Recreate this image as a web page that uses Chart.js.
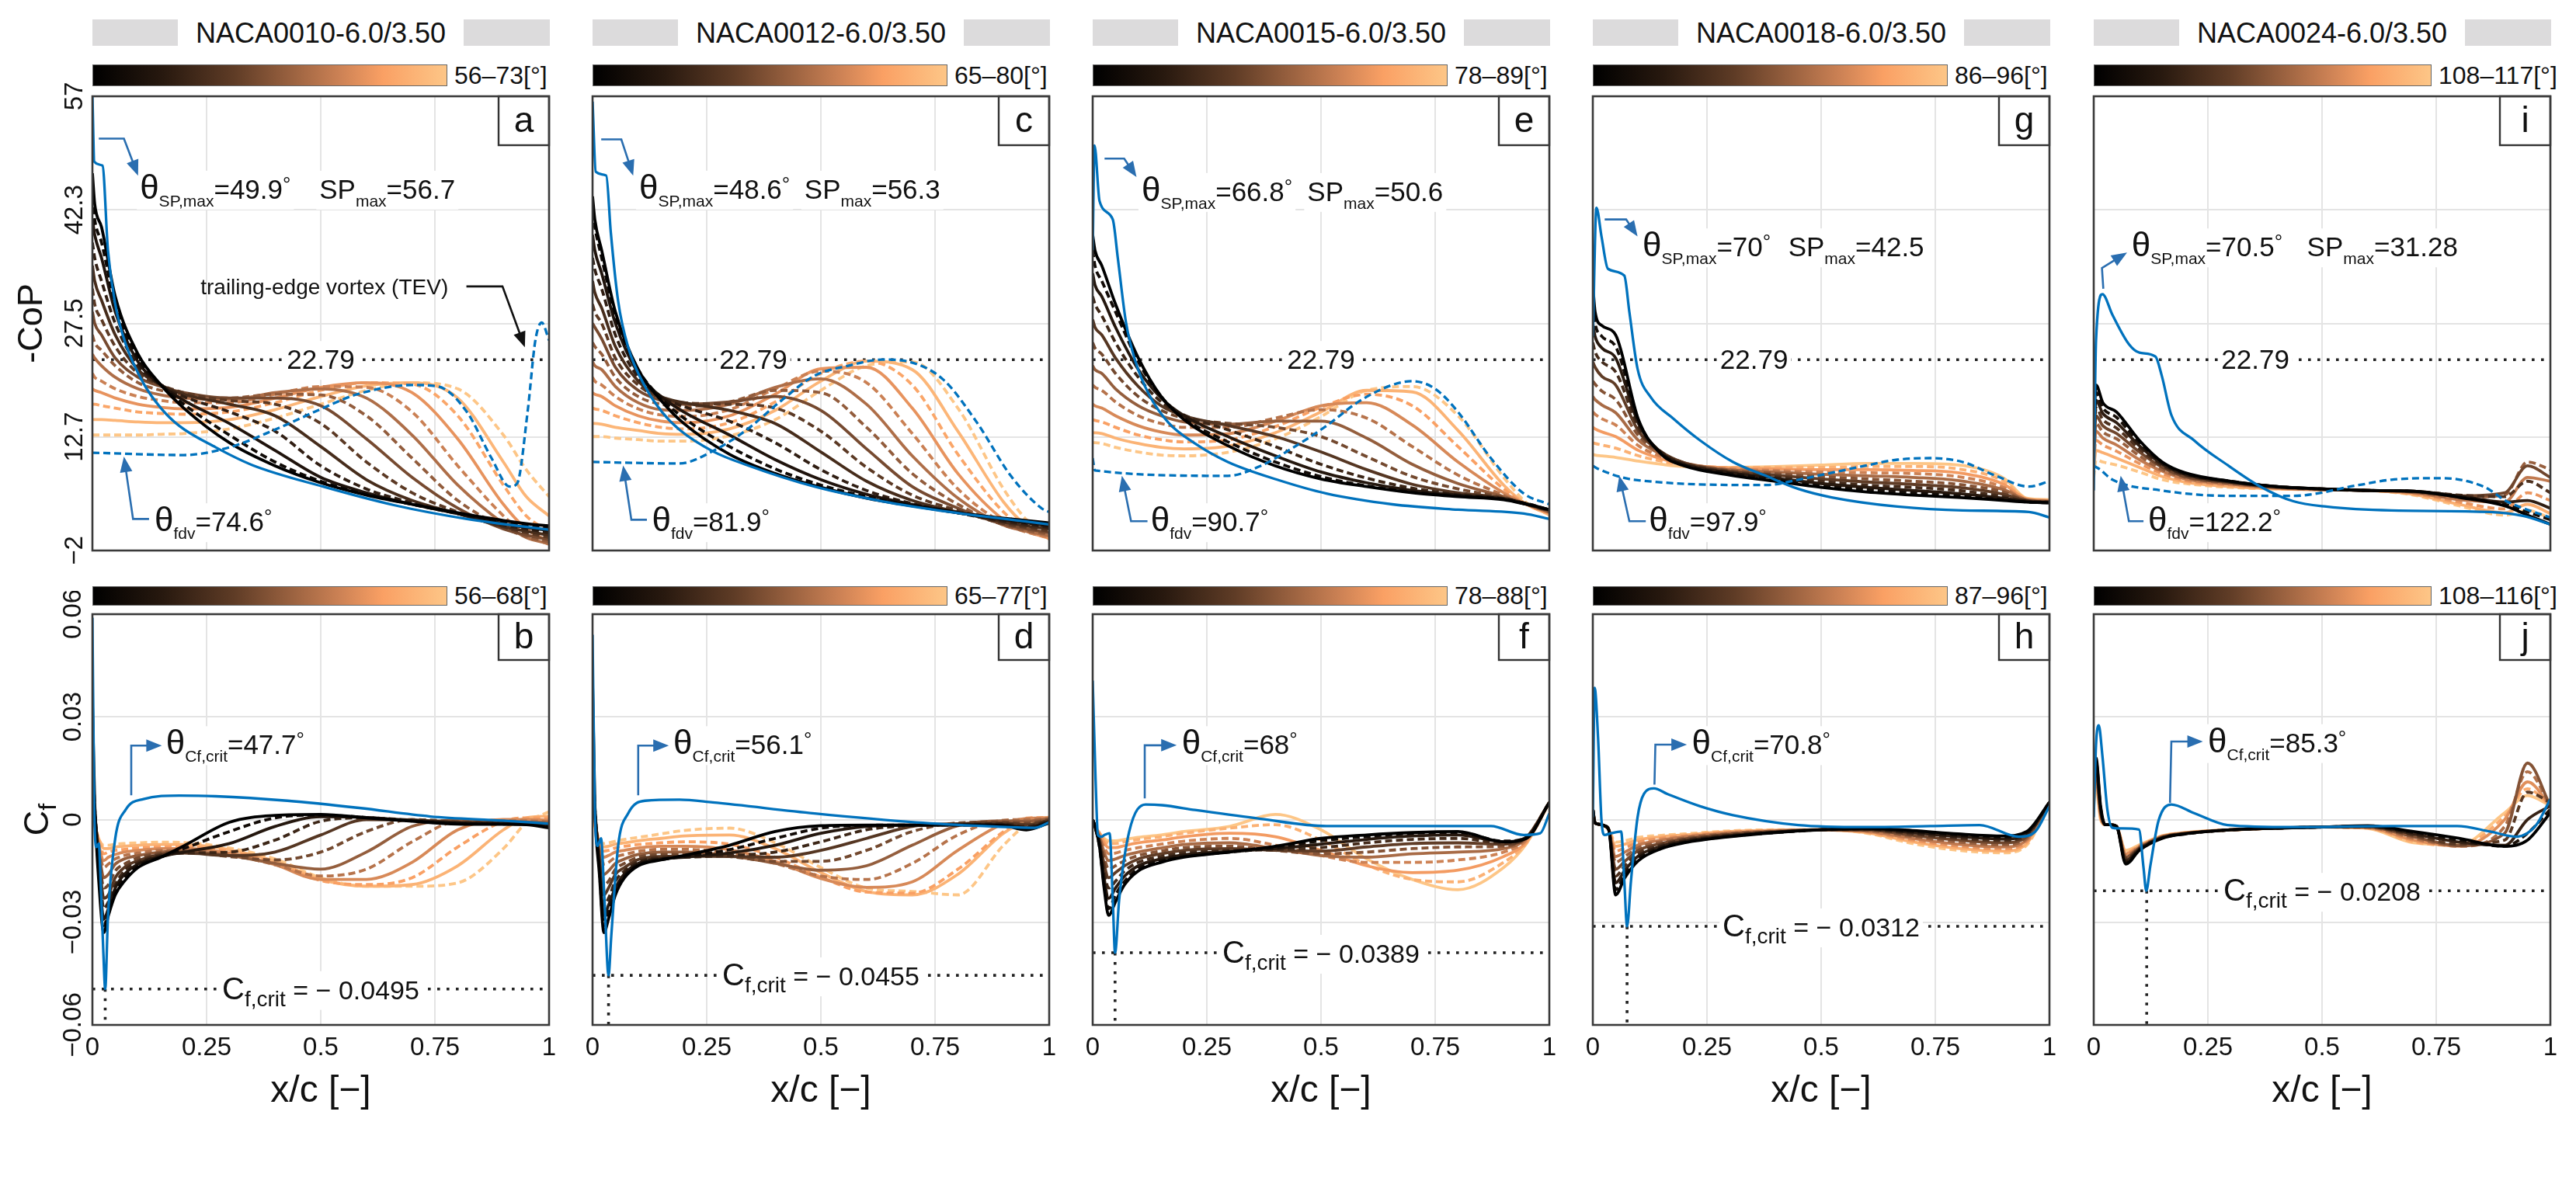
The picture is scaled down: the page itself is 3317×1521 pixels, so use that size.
<!DOCTYPE html>
<html>
<head>
<meta charset="utf-8">
<script src="https://cdn.jsdelivr.net/npm/chart.js@4.4.1/dist/chart.umd.min.js"></script>
<style>
  html, body { margin: 0; padding: 0; background: #fff; overflow: hidden; }
  #fig { position: relative; width: 3317px; height: 1521px; overflow: hidden;
         font-family: "Liberation Sans", Arial, Helvetica, sans-serif; color: #111; }
  .tbar { position: absolute; height: 34px; background: #dcdbdc; }
  .ttxt { position: absolute; top: 0; height: 34px; background: #fff; font-size: 36px;
          line-height: 36px; text-align: center; white-space: nowrap; }
  .cbar { position: absolute; box-sizing: border-box; border: 1px solid #666; }
  .cblab { position: absolute; font-size: 32px; line-height: 36px; white-space: nowrap; }
  canvas { position: absolute; }
</style>
</head>
<body>
<div id="fig"></div>
<script>
// ---------- data ----------
const TITLES = ["NACA0010-6.0/3.50", "NACA0012-6.0/3.50", "NACA0015-6.0/3.50", "NACA0018-6.0/3.50", "NACA0024-6.0/3.50"];
const RANGE_TOP = ["56–73", "65–80", "78–89", "86–96", "108–117"];
const RANGE_BOT = ["56–68", "65–77", "78–88", "87–96", "108–116"];
const LETTERS_TOP = ["a", "c", "e", "g", "i"];
const LETTERS_BOT = ["b", "d", "f", "h", "j"];

const THETA_SP = ["49.9", "48.6", "66.8", "70", "70.5"];
const SP_MAX = ["56.7", "56.3", "50.6", "42.5", "31.28"];
const THETA_FDV = ["74.6", "81.9", "90.7", "97.9", "122.2"];
const THETA_CF = ["47.7", "56.1", "68", "70.8", "85.3"];
const CF_CRIT = [-0.0495, -0.0455, -0.0389, -0.0312, -0.0208];
const CF_CRIT_X = [0.028, 0.035, 0.049, 0.075, 0.116];
const REF_LINE = 22.79;

const X_TICKS = [0, 0.25, 0.5, 0.75, 1];
const X_TICK_LABELS = ["0", "0.25", "0.5", "0.75", "1"];
const COP_TICKS = [-2, 12.75, 27.5, 42.25, 57];
const COP_TICK_LABELS = ["−2", "12.7", "27.5", "42.3", "57"];
const CF_TICKS = [-0.06, -0.03, 0, 0.03, 0.06];
const CF_TICK_LABELS = ["−0.06", "−0.03", "0", "0.03", "0.06"];

// chordwise stations used by the angle-sweep curves
const XT = [0, 0.005, 0.02, 0.05, 0.1, 0.15, 0.2, 0.3, 0.4, 0.5, 0.6, 0.7, 0.8, 0.9, 0.95, 1];
const XB = [0, 0.005, 0.015, 0.025, 0.035, 0.05, 0.07, 0.1, 0.15, 0.2, 0.3, 0.4, 0.5, 0.6, 0.7, 0.8, 0.9, 0.95, 1];

// -CoP, angle sweep (dark -> light)
const copA = [
  [47,43,40,31,23.5,19.5,16.5,12,9,6.8,5.2,4,2.9,1.9,1.5,1.2],
  [44,41,38,30,23,19.5,17,13,9.5,7,5.3,4,2.8,1.7,1.3,0.9],
  [41,39,36,29,22.5,19.5,17.5,14.5,11,7.5,5.5,4,2.8,1.5,1,0.6],
  [38,36,33,27.5,22,19.5,18,16,13.5,9,6,4.2,2.8,1.3,0.8,0.3],
  [35,33,30.5,26,21.5,19.5,18.3,17,15.5,11.5,7.2,4.5,2.8,1.1,0.5,0],
  [32,30,28,24.5,21,19.5,18.5,17.5,17,14.5,9.5,5.5,3,1,0.3,-0.3],
  [29,27.5,26,23,20.5,19.3,18.5,17.8,17.8,16.8,12.5,7.5,3.5,0.8,0,-0.6],
  [26,25,24,22,19.8,18.8,18.2,17.8,18.3,18.2,15.5,10,4.5,1,-0.2,-0.9],
  [23.5,23,22,20.5,19,18.2,17.8,17.6,18.5,19,17.8,13,6.5,1.5,-0.3,-1.1],
  [21,20.5,20,19,18,17.5,17.2,17.2,18.3,19.3,19.2,16,9,2.5,0,-1.2],
  [19,18.8,18.5,17.8,17,16.6,16.4,16.6,17.8,19.2,19.8,18.5,12.5,4,0.8,-0.8],
  [17,17,16.8,16.5,16,15.8,15.7,16,17.2,18.8,19.8,19.6,15.5,6.5,2.5,0.5],
  [15,15,15,14.9,14.7,14.6,14.6,15,16.3,18,19.4,19.8,17.8,9.5,5,2.5],
  [13,13,13,13,13,13.1,13.2,13.8,15.2,17,18.8,19.8,19,13,8.5,5]
];
const copC = [
  [44,41,37,29,21.5,17.5,14.5,10.5,8,6.2,4.8,3.8,2.9,2.2,1.9,1.6],
  [42,40,36,28.5,21.5,17.8,15.2,11.5,8.6,6.5,5,3.9,2.9,2.1,1.7,1.4],
  [39,37,34,27.5,21,18,16,13,9.8,7.2,5.3,4,2.9,2,1.6,1.2],
  [36,34.5,32,26,20.5,18,16.7,14.8,12,8.5,5.8,4.1,2.9,1.8,1.4,1],
  [33,31.5,29.5,24.5,20,18,17.2,16.2,14.5,10.8,7,4.5,3,1.7,1.2,0.8],
  [30,29,27.5,23,19.5,17.8,17.2,17,16.5,13.5,8.8,5.2,3.2,1.5,1,0.5],
  [27.5,27,25.5,21.8,18.8,17.5,17,17.3,18,16.2,11.2,6.3,3.5,1.4,0.8,0.3],
  [25,24.5,23.5,20.5,18,17,16.7,17.3,18.8,18.5,14,8,4,1.3,0.6,0.1],
  [22.5,22,21.5,19.3,17.2,16.3,16.2,17,19.2,20.3,17,10.3,4.8,1.3,0.5,-0.1],
  [20.5,20,19.5,18,16.4,15.6,15.4,16.3,19,21.3,19.8,13.2,6,1.5,0.4,-0.3],
  [18.5,18.3,18,16.8,15.5,14.8,14.6,15.5,18.3,21.6,21.8,16.5,8,2,0.5,-0.4],
  [16.5,16.4,16.2,15.5,14.6,14,13.8,14.6,17.3,21,22.6,19.5,10.5,3,0.8,-0.5],
  [14.5,14.5,14.4,14,13.6,13.2,13.1,13.8,16.2,20,22.6,21.5,13.5,4.3,1.2,-0.5],
  [12.8,12.8,12.8,12.6,12.4,12.2,12.2,12.9,15,18.8,22,22.5,16.5,6,2,-0.3]
];
const copE = [
  [39,37,35,30,23,18,15,11.5,9,7.3,6.3,5.5,5,4.6,4,3.3],
  [37,35,33,29,22.5,18,15.2,12,9.5,7.6,6.4,5.6,5.1,4.7,4.1,3.3],
  [34,32.5,31,27,21.5,17.8,15.5,12.7,10.3,8.2,6.8,5.8,5.2,4.7,4.1,3.3],
  [31,30,28.5,25,20.5,17.3,15.6,13.6,11.5,9.2,7.4,6.1,5.3,4.7,4,3.2],
  [28,27,26,23,19.3,16.8,15.5,14.2,12.8,10.8,8.5,6.6,5.5,4.8,4,3.2],
  [25,24.3,23.5,21,18,16.2,15.2,14.5,14,12.8,10.2,7.6,6,4.9,4,3.1],
  [22,21.5,21,19,16.8,15.5,14.7,14.4,14.8,14.8,12.6,9.2,6.7,5,4,3],
  [19.5,19.2,18.8,17.3,15.5,14.5,14,14,15.2,16.3,15.2,11.5,7.8,5.2,4,3],
  [17,16.8,16.5,15.5,14.2,13.4,13,13.2,14.8,16.8,17.2,14.3,9.5,5.5,4,2.9],
  [15,14.9,14.7,14,13,12.4,12.1,12.4,14.1,16.6,18.3,16.8,11.5,6,4,2.8],
  [13.3,13.3,13.2,12.6,11.9,11.4,11.2,11.6,13.3,16,18.8,18.6,13.6,6.5,4,2.7],
  [12,12,11.9,11.4,10.8,10.4,10.3,10.8,12.5,15.4,18.8,19.3,15.5,7.5,4.2,2.6]
];
const copG = [
  [32.5,29,27.2,26,15,10.5,9,7.8,7,6.2,5.6,5.2,4.9,4.5,4.3,4.2],
  [30,27.5,25.8,24.5,14.8,10.6,9.1,8,7.2,6.4,5.9,5.5,5.1,4.6,4.3,4.2],
  [27.5,25.8,24.3,23,14.5,10.7,9.2,8.1,7.4,6.7,6.2,5.8,5.4,4.8,4.4,4.2],
  [25,23.8,22.5,21.2,14,10.8,9.3,8.2,7.6,7,6.5,6.2,5.8,5,4.4,4.3],
  [22.5,21.8,20.6,19.5,13.5,10.8,9.4,8.3,7.8,7.3,6.9,6.6,6.2,5.3,4.5,4.3],
  [20,19.6,18.7,17.6,12.9,10.7,9.4,8.4,8,7.6,7.3,7,6.6,5.6,4.5,4.3],
  [18,17.6,16.9,15.9,12.3,10.5,9.4,8.5,8.2,7.9,7.7,7.5,7.1,5.9,4.6,4.4],
  [16,15.7,15.1,14.3,11.6,10.2,9.3,8.6,8.4,8.2,8.1,8,7.6,6.2,4.6,4.4],
  [14,13.8,13.4,12.8,11,9.9,9.2,8.7,8.6,8.5,8.5,8.4,8.1,6.6,4.7,4.5],
  [12,11.9,11.7,11.3,10.3,9.6,9.1,8.8,8.8,8.8,8.9,8.9,8.6,7,4.7,4.5],
  [10.5,10.4,10.3,10.1,9.6,9.2,8.9,8.8,8.9,9.1,9.3,9.3,9.1,7.4,4.8,4.6]
];
const copI = [
  [13,19.5,17.2,16,12.3,9.5,8.1,7,6.3,6,5.8,5.7,4.9,3.8,2.6,1.4],
  [12.5,18.5,16.5,15.3,12,9.4,8,7,6.3,6,5.8,5.7,5,4,3,2],
  [12,17.5,15.8,14.6,11.6,9.2,7.9,6.9,6.3,6,5.8,5.7,5.1,4.3,4.5,3.5],
  [11.5,16.5,15,13.9,11.2,9,7.8,6.9,6.3,6,5.8,5.7,5.2,5,7,5.5],
  [11,15.5,14.2,13.2,10.8,8.8,7.6,6.8,6.2,6,5.8,5.6,5.1,5.5,9,7.5],
  [10.5,14.5,13.4,12.5,10.3,8.5,7.5,6.7,6.2,5.9,5.8,5.6,4.9,5.2,9.5,8.5],
  [10,13.5,12.6,11.7,9.8,8.3,7.3,6.6,6.1,5.9,5.8,5.5,4.6,4.3,7.5,7],
  [9.5,12.3,11.7,10.9,9.3,8,7.1,6.5,6.1,5.9,5.8,5.4,4.3,3.4,5.5,4.5],
  [8.5,11,10.7,10,8.8,7.6,6.9,6.3,6,5.9,5.8,5.3,4,2.9,4,2.8],
  [7.5,9.8,9.5,9.1,8.2,7.2,6.7,6.2,6,5.9,5.8,5.2,3.8,2.6,3.2,2.2]
];

// Cf, angle sweep (dark -> light)
const cfB = [
  [0.034,0.005,-0.02,-0.033,-0.028,-0.022,-0.018,-0.014,-0.011,-0.0077,-0.0008,0.0012,0.0015,0.0005,-0.0005,-0.0013,-0.0014,-0.0015,-0.0024],
  [0.02,0.004,-0.018,-0.031,-0.027,-0.021,-0.017,-0.0135,-0.011,-0.0085,-0.0035,0.0005,0.0013,0.0006,-0.0004,-0.0012,-0.0013,-0.0014,-0.002],
  [0.01,0.003,-0.016,-0.029,-0.026,-0.02,-0.016,-0.013,-0.0108,-0.0095,-0.007,-0.002,0.0008,0.0006,-0.0003,-0.001,-0.0012,-0.0013,-0.0018],
  [0.005,0.002,-0.014,-0.026,-0.024,-0.019,-0.015,-0.0125,-0.0105,-0.0098,-0.0095,-0.006,-0.0005,0.0005,-0.0002,-0.0009,-0.001,-0.0011,-0.0016],
  [0.003,0.001,-0.012,-0.023,-0.022,-0.017,-0.014,-0.012,-0.0102,-0.0098,-0.0105,-0.0095,-0.0045,0,-0.0001,-0.0008,-0.0009,-0.001,-0.0014],
  [0.002,0,-0.011,-0.02,-0.019,-0.015,-0.013,-0.0112,-0.0098,-0.0095,-0.0108,-0.0118,-0.0095,-0.0035,0,-0.0006,-0.0008,-0.0009,-0.0012],
  [0.002,0,-0.01,-0.017,-0.016,-0.013,-0.0115,-0.0105,-0.0095,-0.0093,-0.0105,-0.0128,-0.0145,-0.0095,-0.002,-0.0002,-0.0006,-0.0007,-0.001],
  [0.001,-0.001,-0.009,-0.014,-0.013,-0.0115,-0.0105,-0.0098,-0.009,-0.009,-0.0102,-0.0132,-0.0165,-0.0145,-0.0065,-0.0005,-0.0003,-0.0004,-0.0006],
  [0.001,-0.001,-0.008,-0.012,-0.011,-0.0102,-0.0095,-0.009,-0.0085,-0.0085,-0.0098,-0.0132,-0.0175,-0.0175,-0.0125,-0.003,0,0,-0.0002],
  [0,-0.002,-0.007,-0.01,-0.0095,-0.009,-0.0087,-0.0083,-0.008,-0.008,-0.0093,-0.0128,-0.0178,-0.019,-0.017,-0.008,-0.0005,0.0005,0.0005],
  [0,-0.002,-0.006,-0.0085,-0.0085,-0.008,-0.0078,-0.0075,-0.0073,-0.0073,-0.0088,-0.0122,-0.0175,-0.0195,-0.019,-0.0135,-0.003,0.0005,0.001],
  [0,-0.002,-0.006,-0.0075,-0.0075,-0.0072,-0.007,-0.0068,-0.0066,-0.0067,-0.0083,-0.0115,-0.017,-0.0195,-0.0195,-0.0185,-0.0085,-0.001,0.0023]
];
const cfD = [
  [0.04,0.005,-0.016,-0.033,-0.029,-0.022,-0.017,-0.0135,-0.0118,-0.0105,-0.0075,-0.0035,-0.0018,-0.0016,-0.0016,-0.0016,-0.0018,-0.003,-0.001],
  [0.02,0.004,-0.015,-0.031,-0.027,-0.021,-0.0165,-0.0132,-0.0117,-0.0108,-0.0088,-0.0055,-0.0025,-0.0017,-0.0016,-0.0016,-0.0017,-0.0028,-0.0008],
  [0.01,0.003,-0.014,-0.028,-0.025,-0.02,-0.0158,-0.0128,-0.0115,-0.011,-0.0098,-0.0075,-0.004,-0.002,-0.0016,-0.0015,-0.0015,-0.0024,-0.0006],
  [0.005,0.002,-0.013,-0.025,-0.023,-0.018,-0.015,-0.0123,-0.0112,-0.011,-0.0105,-0.0095,-0.0065,-0.003,-0.0017,-0.0014,-0.0013,-0.002,-0.0004],
  [0.003,0.001,-0.012,-0.022,-0.02,-0.016,-0.014,-0.0117,-0.0108,-0.0107,-0.0108,-0.011,-0.009,-0.0055,-0.002,-0.0012,-0.001,-0.0015,-0.0002],
  [0.002,0,-0.011,-0.019,-0.018,-0.0145,-0.0128,-0.011,-0.0102,-0.0102,-0.0108,-0.0122,-0.0122,-0.009,-0.0035,-0.001,-0.0007,-0.001,0],
  [0.002,0,-0.01,-0.016,-0.015,-0.0128,-0.0115,-0.0102,-0.0095,-0.0095,-0.0105,-0.0128,-0.0148,-0.0135,-0.0075,-0.0018,-0.0004,-0.0005,0.0002],
  [0.001,-0.001,-0.009,-0.013,-0.0125,-0.011,-0.0102,-0.0093,-0.0087,-0.0087,-0.0098,-0.0128,-0.0165,-0.0175,-0.0128,-0.0045,-0.0002,0,0.0003],
  [0.001,-0.001,-0.008,-0.011,-0.0105,-0.0095,-0.009,-0.0083,-0.0078,-0.0078,-0.0088,-0.0122,-0.0172,-0.0198,-0.0182,-0.009,-0.0012,0.0003,0.0005],
  [0,-0.002,-0.007,-0.0092,-0.009,-0.0083,-0.0078,-0.0073,-0.0068,-0.0065,-0.0072,-0.011,-0.0168,-0.0212,-0.0215,-0.0145,-0.0035,0.0004,0.0006],
  [0,-0.002,-0.0065,-0.008,-0.0078,-0.0072,-0.0068,-0.0062,-0.0055,-0.0048,-0.0045,-0.0085,-0.0155,-0.021,-0.022,-0.016,-0.004,-0.0005,0.0007],
  [0,-0.002,-0.006,-0.007,-0.0068,-0.0063,-0.0058,-0.0052,-0.0042,-0.0032,-0.0025,-0.0068,-0.014,-0.02,-0.021,-0.022,-0.0075,-0.0015,0.0008]
];
const cfF = [
  [0,-0.002,-0.008,-0.02,-0.028,-0.024,-0.019,-0.015,-0.0125,-0.011,-0.0095,-0.0078,-0.0055,-0.0045,-0.0038,-0.0035,-0.0065,-0.0055,0.005],
  [0,-0.002,-0.008,-0.019,-0.026,-0.022,-0.018,-0.0143,-0.012,-0.0108,-0.0095,-0.0082,-0.0062,-0.005,-0.004,-0.0038,-0.0063,-0.0053,0.005],
  [0,-0.002,-0.007,-0.017,-0.023,-0.02,-0.0165,-0.0135,-0.0115,-0.0103,-0.0093,-0.0085,-0.0072,-0.0058,-0.0048,-0.0045,-0.0065,-0.0052,0.005],
  [0,-0.002,-0.007,-0.015,-0.02,-0.018,-0.015,-0.0125,-0.0108,-0.0097,-0.009,-0.0088,-0.0082,-0.0068,-0.0058,-0.0055,-0.0068,-0.0052,0.005],
  [0,-0.002,-0.006,-0.013,-0.017,-0.0155,-0.0135,-0.0115,-0.01,-0.009,-0.0085,-0.009,-0.0092,-0.008,-0.007,-0.0068,-0.0072,-0.0052,0.005],
  [0,-0.002,-0.006,-0.011,-0.0145,-0.0135,-0.012,-0.0105,-0.0092,-0.0082,-0.0078,-0.009,-0.01,-0.0095,-0.0085,-0.008,-0.0078,-0.0052,0.005],
  [0,-0.002,-0.005,-0.0095,-0.012,-0.0115,-0.0105,-0.0095,-0.0083,-0.0073,-0.0068,-0.0085,-0.0105,-0.011,-0.01,-0.0095,-0.0085,-0.0055,0.005],
  [0,-0.002,-0.005,-0.008,-0.01,-0.0098,-0.009,-0.0082,-0.0072,-0.0063,-0.0055,-0.0075,-0.0105,-0.0125,-0.0125,-0.0118,-0.0095,-0.006,0.005],
  [0,-0.002,-0.004,-0.0068,-0.0082,-0.0082,-0.0076,-0.0068,-0.006,-0.005,-0.004,-0.005,-0.009,-0.0135,-0.0155,-0.0148,-0.0108,-0.0065,0.005],
  [0,-0.002,-0.004,-0.006,-0.007,-0.007,-0.0065,-0.0058,-0.005,-0.004,-0.0025,-0.0015,-0.006,-0.0132,-0.0175,-0.0182,-0.0125,-0.0068,0.005],
  [0,-0.002,-0.004,-0.0055,-0.0062,-0.0062,-0.0058,-0.0052,-0.0045,-0.0035,-0.002,0.0015,-0.003,-0.0115,-0.0175,-0.0205,-0.014,-0.007,0.005]
];
const cfH = [
  [0.003,-0.001,-0.0014,-0.0018,-0.003,-0.022,-0.017,-0.012,-0.0085,-0.0068,-0.005,-0.0038,-0.003,-0.0026,-0.0032,-0.0042,-0.0048,-0.0035,0.005],
  [0.003,-0.001,-0.0014,-0.0018,-0.003,-0.0205,-0.016,-0.0113,-0.0082,-0.0066,-0.0049,-0.0038,-0.003,-0.0027,-0.0035,-0.0046,-0.0052,-0.0038,0.005],
  [0.003,-0.001,-0.0014,-0.0018,-0.003,-0.0185,-0.0148,-0.0106,-0.0078,-0.0063,-0.0047,-0.0037,-0.003,-0.0028,-0.0038,-0.005,-0.0057,-0.0042,0.005],
  [0.003,-0.001,-0.0014,-0.0018,-0.003,-0.0165,-0.0135,-0.0098,-0.0074,-0.006,-0.0045,-0.0036,-0.003,-0.0029,-0.0042,-0.0055,-0.0062,-0.0046,0.005],
  [0.003,-0.001,-0.0014,-0.0018,-0.003,-0.0145,-0.0122,-0.009,-0.007,-0.0057,-0.0043,-0.0035,-0.003,-0.003,-0.0046,-0.006,-0.0068,-0.005,0.005],
  [0.003,-0.001,-0.0014,-0.0018,-0.003,-0.0125,-0.0108,-0.0082,-0.0065,-0.0054,-0.0041,-0.0034,-0.003,-0.0032,-0.005,-0.0066,-0.0074,-0.0055,0.005],
  [0.003,-0.001,-0.0014,-0.0018,-0.003,-0.0108,-0.0095,-0.0074,-0.006,-0.0051,-0.0039,-0.0033,-0.003,-0.0034,-0.0055,-0.0072,-0.008,-0.006,0.005],
  [0.003,-0.001,-0.0014,-0.0018,-0.003,-0.0092,-0.0083,-0.0066,-0.0055,-0.0048,-0.0037,-0.0032,-0.003,-0.0036,-0.006,-0.0078,-0.0086,-0.0065,0.005],
  [0.003,-0.001,-0.0014,-0.0018,-0.003,-0.0078,-0.0072,-0.0059,-0.005,-0.0045,-0.0035,-0.0031,-0.003,-0.0038,-0.0065,-0.0084,-0.0092,-0.007,0.005],
  [0.003,-0.001,-0.0014,-0.0018,-0.003,-0.0066,-0.0062,-0.0052,-0.0046,-0.0042,-0.0033,-0.003,-0.003,-0.004,-0.007,-0.009,-0.0097,-0.0075,0.005]
];
const cfJ = [
  [0.012,0.018,0.004,-0.0015,-0.0015,-0.002,-0.013,-0.009,-0.0055,-0.0042,-0.003,-0.0025,-0.0022,-0.0018,-0.0035,-0.0055,-0.0078,-0.006,0.002],
  [0.011,0.017,0.0035,-0.0015,-0.0015,-0.002,-0.0125,-0.0088,-0.0054,-0.0042,-0.003,-0.0025,-0.0022,-0.0019,-0.0038,-0.006,-0.0078,-0.004,0.003],
  [0.01,0.016,0.003,-0.0015,-0.0015,-0.002,-0.012,-0.0086,-0.0053,-0.0041,-0.003,-0.0025,-0.0022,-0.002,-0.0042,-0.0066,-0.0075,0,0.004],
  [0.009,0.015,0.0025,-0.0015,-0.0015,-0.002,-0.0115,-0.0084,-0.0052,-0.0041,-0.003,-0.0025,-0.0022,-0.0021,-0.0046,-0.0072,-0.006,0.008,0.005],
  [0.008,0.014,0.002,-0.0015,-0.0015,-0.002,-0.011,-0.0082,-0.0051,-0.004,-0.003,-0.0025,-0.0022,-0.0022,-0.005,-0.0076,-0.004,0.0165,0.004],
  [0.007,0.013,0.0015,-0.0015,-0.0015,-0.002,-0.0105,-0.008,-0.005,-0.004,-0.003,-0.0025,-0.0022,-0.0023,-0.0055,-0.0078,-0.002,0.014,0.004],
  [0.006,0.012,0.001,-0.0015,-0.0015,-0.002,-0.01,-0.0078,-0.0049,-0.0039,-0.003,-0.0025,-0.0022,-0.0024,-0.006,-0.0078,0,0.011,0.004],
  [0.005,0.011,0.0005,-0.0015,-0.0015,-0.002,-0.0095,-0.0076,-0.0048,-0.0039,-0.003,-0.0025,-0.0022,-0.0025,-0.0065,-0.0076,0.001,0.009,0.004],
  [0.004,0.01,0,-0.0015,-0.0015,-0.002,-0.009,-0.0074,-0.0047,-0.0038,-0.003,-0.0025,-0.0022,-0.0026,-0.0068,-0.0074,0.002,0.007,0.004]
];

// blue reference curves: theta_SP,max (solid) and theta_fdv (dashed) for -CoP
const spA_x = [0,0.004,0.022,0.034,0.05,0.073,0.112,0.15,0.19,0.27,0.35,0.505,0.66,0.82,1];
const spA_y = [57,48.5,48,37,30,24.8,19.7,16.5,14.2,11.4,9.1,6.3,3.9,2.1,0.7];
const fdvA_x = [0,0.2,0.3,0.4,0.505,0.58,0.7,0.757,0.82,0.874,0.914,0.93,0.953,0.97,0.984,1];
const fdvA_y = [10.7,10.4,11.4,13.7,16.5,18.3,19.5,19.3,16,10,6.3,6.7,16,25.3,27.6,25.3];
const spC_x = [0,0.007,0.03,0.04,0.056,0.078,0.115,0.152,0.19,0.263,0.338,0.486,0.634,0.783,1];
const spC_y = [56.3,47.2,46.7,39.3,30.4,24.4,19.3,16,13.7,10.9,9.1,6.3,4.4,3,1.4];
const fdvC_x = [0,0.19,0.263,0.338,0.412,0.486,0.56,0.634,0.694,0.768,0.842,0.916,0.983,1];
const fdvC_y = [9.5,9.3,10.9,13.7,17.4,20.7,22,22.8,22.5,20.2,14.6,7.7,3.5,3];
const spE_x = [0,0.004,0.015,0.044,0.055,0.073,0.094,0.123,0.166,0.224,0.296,0.404,0.512,0.656,0.8,0.944,1];
const spE_y = [37,50.6,43.4,41,36,27.6,22.5,18.3,14.6,11.9,9.5,7.2,5.4,4,3.3,2.8,2.1];
const fdvE_x = [0,0.005,0.296,0.368,0.44,0.512,0.584,0.656,0.7,0.75,0.8,0.872,0.944,1];
const fdvE_y = [10,8.4,7.7,9,11.4,14.2,17.4,19.5,20,19,16,10,5.4,4];
const spG_x = [0,0.008,0.019,0.033,0.069,0.08,0.098,0.127,0.177,0.235,0.307,0.379,0.45,0.523,0.667,0.81,0.955,1];
const spG_y = [25.8,42.5,38.8,34.6,33.7,29,21.6,17.9,15.1,12.3,9.5,7.7,6,4.9,3.7,3.2,3,2.3];
const fdvG_x = [0,0.012,0.09,0.38,0.45,0.523,0.595,0.667,0.739,0.81,0.883,0.955,1];
const fdvG_y = [9,8.6,7.2,6.5,7.2,8.1,9,9.8,10,9.5,7.7,6.3,7];
const spI_x = [0,0.005,0.019,0.041,0.077,0.1,0.135,0.149,0.17,0.22,0.293,0.365,0.437,0.509,0.652,0.868,0.94,1];
const spI_y = [5.8,25.3,31.3,28.6,24.8,23.7,23.2,20.7,15.6,12.3,9.1,6.3,4.4,3.7,3.2,3,2.5,1.4];
const fdvI_x = [0,0.012,0.041,0.149,0.293,0.437,0.58,0.652,0.76,0.854,0.904,0.94,1];
const fdvI_y = [9,8.6,7.2,5.8,5.1,5.1,6.5,7.2,7.4,6.3,4.4,3.5,2.3];

// blue reference curves: theta_Cf,crit for Cf
const critB_x = [0,0.004,0.009,0.014,0.018,0.024,0.028,0.034,0.05,0.073,0.112,0.19,0.27,0.427,0.584,0.74,0.898,1];
const critB_y = [0.059,0.003,-0.008,-0.007,-0.018,-0.039,-0.0495,-0.0286,-0.0055,0.0029,0.006,0.007,0.0068,0.0055,0.0034,0.0009,-0.0003,-0.0012];
const critD_x = [0,0.005,0.011,0.0185,0.026,0.035,0.041,0.056,0.078,0.115,0.19,0.263,0.486,0.708,0.857,0.968,1];
const critD_y = [0.054,0.003,-0.0077,-0.0055,-0.023,-0.0455,-0.034,-0.0077,0.0018,0.0055,0.0058,0.005,0.0018,-0.0008,-0.0019,-0.0024,-0.0008];
const critF_x = [0,0.006,0.0115,0.019,0.026,0.037,0.044,0.049,0.058,0.08,0.116,0.152,0.224,0.368,0.512,0.656,0.8,0.872,0.944,0.98,1];
const critF_y = [0.0406,0.013,-0.0045,-0.005,-0.0045,-0.004,-0.0234,-0.0389,-0.0234,-0.0035,0.0044,0.0042,0.0028,0.0002,-0.0019,-0.0019,-0.0019,-0.0019,-0.0045,-0.004,0.0018];
const critH_x = [0,0.004,0.0115,0.019,0.026,0.04,0.062,0.069,0.075,0.0835,0.098,0.112,0.134,0.163,0.235,0.307,0.45,0.595,0.739,0.847,0.933,0.969,1];
const critH_y = [0.0007,0.0385,0.0238,-0.0003,-0.0045,-0.004,-0.0035,-0.018,-0.0312,-0.018,0.0007,0.0075,0.0091,0.0075,0.0039,0.0013,-0.0016,-0.0022,-0.0019,-0.0016,-0.005,-0.0035,0.0039];
const critJ_x = [0,0.005,0.011,0.019,0.03,0.041,0.063,0.099,0.109,0.115,0.124,0.142,0.17,0.221,0.293,0.437,0.652,0.796,0.868,0.926,0.969,1];
const critJ_y = [0.0007,0.0218,0.0275,0.0186,0.0028,-0.0024,-0.0026,-0.0029,-0.014,-0.0208,-0.0135,-0.0003,0.0044,0.0018,-0.0016,-0.0022,-0.0019,-0.0019,-0.0035,-0.005,-0.0016,0.006];

const COP_SETS = [copA, copC, copE, copG, copI];
const CF_SETS = [cfB, cfD, cfF, cfH, cfJ];
const SP_CURVES = [[spA_x, spA_y], [spC_x, spC_y], [spE_x, spE_y], [spG_x, spG_y], [spI_x, spI_y]];
const FDV_CURVES = [[fdvA_x, fdvA_y], [fdvC_x, fdvC_y], [fdvE_x, fdvE_y], [fdvG_x, fdvG_y], [fdvI_x, fdvI_y]];
const CRIT_CURVES = [[critB_x, critB_y], [critD_x, critD_y], [critF_x, critF_y], [critH_x, critH_y], [critJ_x, critJ_y]];

// ---------- layout / style ----------
const FONT = '"Liberation Sans", Arial, Helvetica, sans-serif';
const BLUE = "#0072bd";
const ARROW_BLUE = "#2a6eb0";
const PANEL_LEFT = [119, 763, 1407, 2051, 2696];
const PLOT_W = 588;
const CBAR_W = [457, 457, 457, 457, 435];
const CMAP = [[0, 0, 0, 0], [0.2, 40, 25, 15], [0.4, 95, 60, 38], [0.55, 150, 95, 62],
              [0.7, 205, 130, 85], [0.82, 250, 160, 100], [1, 253, 198, 135]];

// annotation anchors, in data units
const SP_POS = [[0.104, 43.7, 0.497], [0.102, 43.7, 0.464], [0.107, 43.4, 0.47], [0.109, 36.2, 0.428], [0.083, 36.2, 0.467]];
const SP_ARROW = [[[0.014, 51.5], [0.069, 51.5], [0.1, 46.7]], [[0.019, 51.4], [0.063, 51.4], [0.089, 46.7]],
                  [[0.026, 48.9], [0.069, 48.9], [0.096, 46.5]], [[0.026, 41], [0.073, 41], [0.098, 38.8]],
                  [[0.021, 32], [0.018, 34.7], [0.073, 36.7]]];
const FDV_POS = [[0.136, 0.5], [0.13, 0.5], [0.127, 0.5], [0.123, 0.5], [0.119, 0.5]];
const FDV_ARROW = [[[0.124, 2.1], [0.089, 2.1], [0.069, 10.2]], [[0.119, 2], [0.085, 2], [0.067, 9.05]],
                   [[0.12, 1.8], [0.084, 1.8], [0.064, 7.7]], [[0.116, 1.8], [0.08, 1.8], [0.058, 7.7]],
                   [[0.109, 1.8], [0.077, 1.8], [0.059, 7.7]]];
const REF_LABEL_X = [0.5, 0.352, 0.5, 0.353, 0.354];
const CF_ARROW = [[[0.085, 0.0071], [0.085, 0.0216], [0.152, 0.0216]], [[0.1, 0.0071], [0.1, 0.0216], [0.167, 0.0216]],
                  [[0.114, 0.0062], [0.114, 0.0217], [0.184, 0.0217]], [[0.135, 0.0102], [0.137, 0.0219], [0.206, 0.0219]],
                  [[0.167, 0.0049], [0.17, 0.0228], [0.239, 0.0228]]];
const CF_TEXT_POS = [[0.161, 0.0191], [0.177, 0.0191], [0.195, 0.0191], [0.217, 0.0191], [0.25, 0.0197]];

Chart.defaults.font.family = FONT;
Chart.defaults.color = "#111";

function cmap(t) {
  for (let i = 1; i < CMAP.length; i++) {
    if (t <= CMAP[i][0]) {
      const a = CMAP[i - 1], b = CMAP[i];
      const f = (t - a[0]) / (b[0] - a[0]);
      return "rgb(" + [1, 2, 3].map(j => Math.round(a[j] + f * (b[j] - a[j]))).join(",") + ")";
    }
  }
  return "rgb(253,198,135)";
}
const GRADIENT = "linear-gradient(to right," +
  CMAP.map(s => `rgb(${s[1]},${s[2]},${s[3]}) ${s[0] * 100}%`).join(",") + ")";

// ---------- drawing helpers ----------
function dotted(ctx, x1, y1, x2, y2) {
  ctx.save();
  ctx.strokeStyle = "#222"; ctx.lineWidth = 3.6; ctx.lineCap = "butt";
  ctx.setLineDash([3.6, 8.4]);
  ctx.beginPath(); ctx.moveTo(x1, y1); ctx.lineTo(x2, y2); ctx.stroke();
  ctx.restore();
}

function arrow(ctx, pts, color) {
  ctx.save();
  ctx.strokeStyle = color; ctx.fillStyle = color; ctx.lineWidth = 2.6; ctx.setLineDash([]);
  const n = pts.length;
  const [ex, ey] = pts[n - 1], [qx, qy] = pts[n - 2];
  const ang = Math.atan2(ey - qy, ex - qx), L = 20, W = 8;
  ctx.beginPath(); ctx.moveTo(pts[0][0], pts[0][1]);
  for (let i = 1; i < n - 1; i++) ctx.lineTo(pts[i][0], pts[i][1]);
  ctx.lineTo(ex - L * 0.8 * Math.cos(ang), ey - L * 0.8 * Math.sin(ang));
  ctx.stroke();
  ctx.beginPath(); ctx.moveTo(ex, ey);
  ctx.lineTo(ex - L * Math.cos(ang) + W * Math.sin(ang), ey - L * Math.sin(ang) - W * Math.cos(ang));
  ctx.lineTo(ex - L * Math.cos(ang) - W * Math.sin(ang), ey - L * Math.sin(ang) + W * Math.cos(ang));
  ctx.closePath(); ctx.fill();
  ctx.restore();
}

// parts: [text, fontSize, baselineShift]
function rich(ctx, x, y, parts, align, bg) {
  ctx.save();
  let w = 0;
  const ws = parts.map(p => { ctx.font = p[1] + "px " + FONT; const m = ctx.measureText(p[0]).width; w += m; return m; });
  let sx = align === "center" ? x - w / 2 : x;
  if (bg) { ctx.fillStyle = "#fff"; ctx.fillRect(sx - 4, y - 36, w + 8, 50); }
  ctx.fillStyle = "#111"; ctx.textAlign = "left"; ctx.textBaseline = "alphabetic";
  parts.forEach((p, i) => { ctx.font = p[1] + "px " + FONT; ctx.fillText(p[0], sx, y + p[2]); sx += ws[i]; });
  ctx.restore();
}

function frame(ctx, ca) {
  ctx.save(); ctx.strokeStyle = "#3a3a3a"; ctx.lineWidth = 2.6; ctx.setLineDash([]);
  ctx.strokeRect(ca.left, ca.top, ca.right - ca.left, ca.bottom - ca.top);
  ctx.restore();
}

function letterBox(ctx, ca, letter, h) {
  ctx.save();
  ctx.fillStyle = "#fff"; ctx.fillRect(ca.right - 65, ca.top, 65, h);
  ctx.strokeStyle = "#333"; ctx.lineWidth = 2.4; ctx.strokeRect(ca.right - 65, ca.top, 65, h);
  ctx.fillStyle = "#111"; ctx.font = "46px " + FONT; ctx.textAlign = "center"; ctx.textBaseline = "middle";
  ctx.fillText(letter, ca.right - 32.5, ca.top + h / 2 + 2);
  ctx.restore();
}

function decoTop(p) {
  return {
    id: "decoTop" + p,
    beforeDatasetsDraw(chart) {
      const { ctx, chartArea: ca, scales } = chart;
      const y = scales.y.getPixelForValue(REF_LINE);
      dotted(ctx, ca.left, y, ca.right, y);
    },
    afterDatasetsDraw(chart) {
      const { ctx, chartArea: ca, scales } = chart;
      const X = v => scales.x.getPixelForValue(v), Y = v => scales.y.getPixelForValue(v);
      const pts = a => a.map(q => [X(q[0]), Y(q[1])]);
      rich(ctx, X(REF_LABEL_X[p]), Y(REF_LINE) + 12, [[REF_LINE.toFixed(2), 35, 0]], "center", true);
      const sp = SP_POS[p];
      rich(ctx, X(sp[0]), Y(sp[1]), [["θ", 44, 0], ["SP,max", 21, 10], ["=" + THETA_SP[p], 35, 0], ["°", 26, -10]], "left", true);
      rich(ctx, X(sp[2]), Y(sp[1]), [["SP", 35, 0], ["max", 21, 10], ["=" + SP_MAX[p], 35, 0]], "left", true);
      rich(ctx, X(FDV_POS[p][0]), Y(FDV_POS[p][1]), [["θ", 44, 0], ["fdv", 21, 10], ["=" + THETA_FDV[p], 35, 0], ["°", 26, -10]], "left", true);
      arrow(ctx, pts(SP_ARROW[p]), ARROW_BLUE);
      arrow(ctx, pts(FDV_ARROW[p]), ARROW_BLUE);
      if (p === 0) {
        rich(ctx, X(0.508), Y(32.3) + 10, [["trailing-edge vortex (TEV)", 28, 0]], "center", false);
        arrow(ctx, pts([[0.819, 32.3], [0.898, 32.3], [0.947, 24.4]]), "#111");
      }
      letterBox(ctx, ca, LETTERS_TOP[p], 63);
      frame(ctx, ca);
    }
  };
}

function decoBot(p) {
  return {
    id: "decoBot" + p,
    beforeDatasetsDraw(chart) {
      const { ctx, chartArea: ca, scales } = chart;
      const y = scales.y.getPixelForValue(CF_CRIT[p]);
      const x = scales.x.getPixelForValue(CF_CRIT_X[p]);
      dotted(ctx, ca.left, y, ca.right, y);
      dotted(ctx, x, y, x, ca.bottom);
    },
    afterDatasetsDraw(chart) {
      const { ctx, chartArea: ca, scales } = chart;
      const X = v => scales.x.getPixelForValue(v), Y = v => scales.y.getPixelForValue(v);
      const pts = a => a.map(q => [X(q[0]), Y(q[1])]);
      rich(ctx, X(0.5), Y(CF_CRIT[p]) + 13,
        [["C", 40, 0], ["f,crit", 28, 9], [" = − " + String(-CF_CRIT[p]), 34, 0]], "center", true);
      rich(ctx, X(CF_TEXT_POS[p][0]), Y(CF_TEXT_POS[p][1]),
        [["θ", 44, 0], ["Cf,crit", 21, 10], ["=" + THETA_CF[p], 35, 0], ["°", 26, -10]], "left", true);
      arrow(ctx, pts(CF_ARROW[p]), ARROW_BLUE);
      letterBox(ctx, ca, LETTERS_BOT[p], 59);
      frame(ctx, ca);
      if (p === 0) {
        ctx.save();
        ctx.translate(ca.left - 73, (ca.top + ca.bottom) / 2);
        ctx.rotate(-Math.PI / 2);
        rich(ctx, 0, 16, [["C", 45, 0], ["f", 32, 10]], "center", false);
        ctx.restore();
      }
    }
  };
}

function brownSets(xs, curves) {
  const n = curves.length;
  return curves.map((ys, k) => ({
    data: xs.map((x, i) => ({ x, y: ys[i] })),
    borderColor: cmap(k / (n - 1)),
    borderWidth: 3.8,
    borderDash: k % 2 ? [9, 5] : [],
    pointRadius: 0,
    cubicInterpolationMode: "monotone",
    fill: false
  }));
}

function blueSet(xy, dashed) {
  return {
    data: xy[0].map((x, i) => ({ x, y: xy[1][i] })),
    borderColor: BLUE,
    borderWidth: 3.3,
    borderDash: dashed ? [9, 5] : [],
    pointRadius: 0,
    cubicInterpolationMode: "monotone",
    fill: false
  };
}

function axes(p, row) {
  const top = row === "top";
  const grid = { color: "#e4e4e4", lineWidth: 2, drawTicks: false };
  return {
    x: {
      type: "linear", min: 0, max: 1,
      afterBuildTicks: s => { s.ticks = X_TICKS.map(v => ({ value: v })); },
      afterFit: s => { s.height = top ? 30 : 201; },
      grid, border: { display: false },
      ticks: { display: !top, font: { size: 33 }, color: "#111", padding: 10, maxRotation: 0,
               autoSkip: false, callback: (v, i) => X_TICK_LABELS[i] },
      title: { display: !top, text: "x/c [−]", font: { size: 48 }, color: "#111",
               padding: { top: 0, bottom: 86 } }
    },
    y: {
      type: "linear", min: top ? -2 : -0.06, max: top ? 57 : 0.06,
      afterBuildTicks: s => { s.ticks = (top ? COP_TICKS : CF_TICKS).map(v => ({ value: v })); },
      afterFit: s => { s.width = 119; },
      grid, border: { display: false },
      ticks: { display: p === 0, font: { size: 33 }, color: "#111", minRotation: 90, maxRotation: 90,
               crossAlign: "center", padding: top ? -10 : -18, autoSkip: false,
               callback: (v, i) => (top ? COP_TICK_LABELS : CF_TICK_LABELS)[i] },
      title: { display: p === 0 && top, text: "-CoP", font: { size: 45 }, color: "#111",
               padding: { top: 15, bottom: 0 } }
    }
  };
}

// ---------- build figure ----------
const fig = document.getElementById("fig");

function addEl(cls, css, html) {
  const d = document.createElement("div");
  d.className = cls;
  Object.assign(d.style, css);
  if (html !== undefined) d.innerHTML = html;
  fig.appendChild(d);
  return d;
}

function addCanvas(left, top, w, h) {
  const c = document.createElement("canvas");
  c.width = w; c.height = h;
  c.style.left = left + "px"; c.style.top = top + "px";
  c.style.width = w + "px"; c.style.height = h + "px";
  fig.appendChild(c);
  return c;
}

PANEL_LEFT.forEach((PL, p) => {
  // title bar
  const bar = addEl("tbar", { left: PL + "px", top: "25px", width: (PLOT_W + 1) + "px" });
  const t = document.createElement("div");
  t.className = "ttxt";
  Object.assign(t.style, { left: (PLOT_W / 2 - 184) + "px", width: "368px" });
  t.textContent = TITLES[p];
  bar.appendChild(t);

  // colour bars
  addEl("cbar", { left: PL + "px", top: "83px", width: CBAR_W[p] + "px", height: "28px", background: GRADIENT });
  addEl("cblab", { left: (PL + CBAR_W[p] + 9) + "px", top: "79px" }, RANGE_TOP[p] + "[°]");
  addEl("cbar", { left: PL + "px", top: "755px", width: CBAR_W[p] + "px", height: "25px", background: GRADIENT });
  addEl("cblab", { left: (PL + CBAR_W[p] + 9) + "px", top: "749px" }, RANGE_BOT[p] + "[°]");

  // -CoP panel
  const c1 = addCanvas(PL - 119, 94, 727, 645);
  new Chart(c1, {
    type: "line",
    data: { datasets: [blueSet(SP_CURVES[p], false), blueSet(FDV_CURVES[p], true)].concat(brownSets(XT, COP_SETS[p])) },
    options: {
      responsive: false, animation: false, devicePixelRatio: 1,
      layout: { padding: { top: 30, right: 20, left: 0, bottom: 0 } },
      plugins: { legend: { display: false }, tooltip: { enabled: false } },
      scales: axes(p, "top")
    },
    plugins: [decoTop(p)]
  });

  // Cf panel
  const c2 = addCanvas(PL - 119, 761, 727, 760);
  new Chart(c2, {
    type: "line",
    data: { datasets: [blueSet(CRIT_CURVES[p], false)].concat(brownSets(XB, CF_SETS[p])) },
    options: {
      responsive: false, animation: false, devicePixelRatio: 1,
      layout: { padding: { top: 30, right: 20, left: 0, bottom: 0 } },
      plugins: { legend: { display: false }, tooltip: { enabled: false } },
      scales: axes(p, "bot")
    },
    plugins: [decoBot(p)]
  });
});
</script>
</body>
</html>
